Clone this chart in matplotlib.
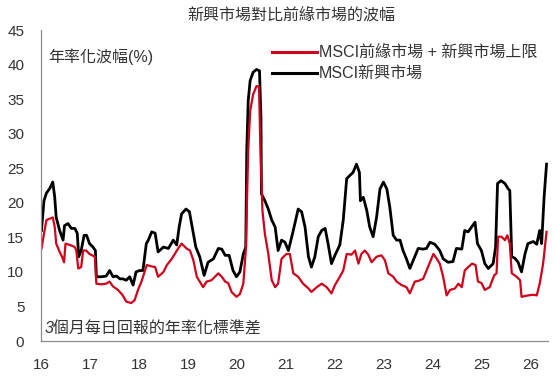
import matplotlib
matplotlib.use("Agg")
import matplotlib.pyplot as plt
from matplotlib.lines import Line2D

plt.rcParams["font.family"] = ["Liberation Sans", "Noto Sans CJK TC", "DejaVu Sans"]

TEXT_COLOR = "#333333"
RED = "#d0021b"

TITLE = "新興市場對比前緣市場的波幅"
YLABEL = "年率化波幅(%)"
NOTE = "3個月每日回報的年率化標準差"
LABEL_FRONTIER = "MSCI前緣市場 + 新興市場上限"
LABEL_EM = "MSCI新興市場"

x_ticks = [16, 17, 18, 19, 20, 21, 22, 23, 24, 25, 26]
x_tick_labels = ["16", "17", "18", "19", "20", "21", "22", "23", "24", "25", "26"]
y_ticks = [0, 5, 10, 15, 20, 25, 30, 35, 40, 45]

# MSCI EM (black), decimal year -> annualised vol (%)
em_years = [
    16.01, 16.06, 16.11, 16.18, 16.24, 16.28, 16.31, 16.38, 16.45, 16.48,
    16.55, 16.62, 16.69, 16.74, 16.77, 16.82, 16.88, 16.93, 16.99, 17.06,
    17.11, 17.13, 17.23, 17.33, 17.40, 17.47, 17.54, 17.61, 17.67, 17.74,
    17.81, 17.88, 17.94, 18.01, 18.08, 18.15, 18.19, 18.26, 18.33, 18.39,
    18.50, 18.60, 18.70, 18.77, 18.82, 18.87, 18.96, 19.03, 19.10, 19.16,
    19.24, 19.33, 19.41, 19.52, 19.62, 19.69, 19.76, 19.84, 19.92, 19.99,
    20.06, 20.13, 20.18, 20.20, 20.23, 20.27, 20.33, 20.40, 20.46, 20.49,
    20.50, 20.57, 20.64, 20.71, 20.78, 20.84, 20.91, 20.98, 21.05, 21.15,
    21.25, 21.32, 21.39, 21.46, 21.52, 21.59, 21.66, 21.73, 21.80, 21.86,
    21.93, 22.00, 22.10, 22.17, 22.24, 22.31, 22.37, 22.44, 22.50, 22.52,
    22.58, 22.65, 22.71, 22.78, 22.85, 22.92, 22.99, 23.06, 23.12, 23.19,
    23.26, 23.33, 23.39, 23.46, 23.53, 23.60, 23.70, 23.80, 23.87, 23.94,
    24.04, 24.14, 24.21, 24.31, 24.41, 24.48, 24.59, 24.65, 24.72, 24.79,
    24.86, 24.91, 24.99, 25.06, 25.13, 25.23, 25.28, 25.32, 25.39, 25.47,
    25.54, 25.57, 25.61, 25.67, 25.74, 25.81, 25.88, 25.94, 26.05, 26.12,
    26.18, 26.22, 26.27, 26.32,
]
em_vol = [
    16.0, 20.3, 21.4, 22.1, 23.0, 20.8, 17.9, 16.0, 14.6, 16.7,
    17.0, 16.3, 16.3, 15.6, 12.2, 13.1, 15.3, 15.3, 14.1, 13.6,
    13.1, 9.3, 9.3, 9.4, 10.2, 9.3, 9.4, 9.0, 9.0, 8.8,
    9.3, 8.1, 10.0, 10.2, 10.2, 14.1, 14.6, 15.8, 15.6, 12.9,
    13.6, 13.4, 14.6, 13.9, 16.5, 18.4, 19.1, 18.7, 16.0, 13.6,
    12.2, 9.5, 11.4, 11.9, 13.4, 13.3, 12.4, 12.4, 10.2, 9.3,
    10.0, 12.6, 13.6, 27.6, 34.8, 37.7, 38.9, 39.3, 39.1, 32.4,
    21.3, 20.3, 19.1, 17.5, 16.5, 13.1, 14.6, 14.3, 13.1, 16.0,
    19.1, 18.7, 16.5, 12.2, 10.7, 12.2, 15.1, 16.0, 16.3, 14.1,
    11.2, 12.4, 13.9, 17.5, 23.5, 24.0, 24.4, 25.6, 24.4, 20.3,
    20.8, 18.9, 16.5, 15.1, 17.9, 22.0, 23.0, 22.0, 19.4, 15.3,
    14.6, 14.6, 13.1, 11.9, 10.5, 11.7, 13.4, 13.3, 13.4, 14.3,
    14.0, 13.1, 11.9, 11.4, 11.5, 13.4, 13.3, 16.0, 15.8, 16.5,
    17.2, 14.1, 13.1, 11.2, 10.5, 11.2, 13.6, 22.8, 23.2, 22.8,
    22.0, 21.8, 12.2, 12.0, 11.4, 10.0, 12.6, 14.1, 14.4, 14.0,
    16.0, 14.1, 20.8, 25.6,
]

# MSCI Frontier + EM small (red)
fm_years = [
    16.01, 16.06, 16.11, 16.18, 16.24, 16.28, 16.31, 16.38, 16.43, 16.47,
    16.50, 16.59, 16.69, 16.72, 16.76, 16.82, 16.86, 16.92, 16.99, 17.10,
    17.13, 17.23, 17.33, 17.40, 17.47, 17.57, 17.67, 17.74, 17.84, 17.91,
    17.98, 18.05, 18.16, 18.26, 18.33, 18.39, 18.50, 18.57, 18.67, 18.73,
    18.80, 18.87, 18.97, 19.04, 19.11, 19.18, 19.24, 19.31, 19.38, 19.48,
    19.55, 19.62, 19.69, 19.76, 19.82, 19.89, 19.99, 20.06, 20.13, 20.18,
    20.23, 20.27, 20.33, 20.40, 20.45, 20.48, 20.52, 20.57, 20.64, 20.71,
    20.78, 20.84, 20.91, 21.01, 21.08, 21.15, 21.25, 21.35, 21.46, 21.52,
    21.63, 21.73, 21.83, 21.93, 22.00, 22.10, 22.17, 22.24, 22.34, 22.41,
    22.48, 22.54, 22.61, 22.68, 22.75, 22.85, 22.95, 23.02, 23.09, 23.19,
    23.26, 23.36, 23.46, 23.53, 23.63, 23.70, 23.80, 23.90, 24.01, 24.07,
    24.14, 24.21, 24.28, 24.35, 24.45, 24.52, 24.59, 24.65, 24.72, 24.80,
    24.87, 24.92, 24.99, 25.06, 25.16, 25.25, 25.30, 25.33, 25.40, 25.47,
    25.52, 25.57, 25.61, 25.71, 25.78, 25.81, 25.94, 26.05, 26.12, 26.18,
    26.25, 26.32,
]
fm_vol = [
    13.4, 15.5, 17.5, 17.7, 17.9, 16.5, 14.1, 12.9, 12.2, 11.4,
    14.1, 13.9, 13.6, 13.1, 10.5, 10.7, 13.1, 13.1, 12.6, 12.2,
    8.3, 8.2, 8.3, 8.6, 7.9, 7.4, 6.6, 5.7, 5.5, 5.9,
    7.4, 8.6, 11.0, 10.8, 10.7, 9.3, 10.0, 11.0, 11.9, 12.6,
    13.4, 14.1, 13.4, 13.1, 11.7, 9.3, 8.6, 7.8, 8.6, 8.8,
    9.3, 9.8, 9.3, 8.6, 8.4, 7.1, 6.4, 6.8, 8.3, 13.1,
    27.6, 33.3, 35.7, 36.9, 36.8, 27.6, 18.9, 15.5, 12.6, 8.8,
    7.8, 8.3, 11.9, 12.6, 12.6, 9.8, 9.3, 8.3, 7.6, 7.1,
    7.8, 8.3, 7.8, 6.9, 8.1, 9.3, 10.2, 12.6, 12.5, 13.1,
    11.2, 12.6, 13.1, 12.5, 11.4, 12.2, 12.4, 11.7, 9.8, 9.3,
    8.6, 8.1, 7.8, 6.9, 8.6, 8.7, 9.0, 10.7, 12.6, 12.0,
    11.2, 9.3, 6.6, 7.4, 7.6, 8.3, 7.8, 10.2, 10.7, 11.2,
    11.0, 8.6, 8.4, 7.4, 7.8, 9.5, 9.8, 15.1, 15.1, 14.6,
    15.3, 14.1, 9.8, 9.3, 8.8, 6.4, 6.6, 6.7, 6.6, 8.3,
    11.2, 15.8,
]


def style_axes(ax):
    for side in ["top", "right"]:
        ax.spines[side].set_visible(False)
    for side in ["left", "bottom"]:
        ax.spines[side].set_color("#8c8c8c")
        ax.spines[side].set_linewidth(0.9)

    ax.set_xlim(16, 26.35)
    ax.set_ylim(0, 45)
    ax.set_xticks(x_ticks)
    ax.set_xticklabels(x_tick_labels)
    ax.set_yticks(y_ticks)
    ax.tick_params(axis="both", length=0, labelsize=11, labelcolor=TEXT_COLOR)
    ax.tick_params(axis="y", pad=12)
    ax.tick_params(axis="x", pad=12)


def add_legend(fig):
    # hand-placed legend: two short lines with text to the right
    entries = [(RED, LABEL_FRONTIER, 0.861), (("black"), LABEL_EM, 0.805)]
    for color, label, y in entries:
        fig.add_artist(Line2D([0.490, 0.571], [y, y], color=color, linewidth=2.2,
                              transform=fig.transFigure))
        fig.text(0.574, y, label, fontsize=11.5, color=TEXT_COLOR,
                 va="center", ha="left")


def main():
    fig = plt.figure(figsize=(5.55, 3.76), dpi=100)
    ax = fig.add_axes([0.0739, 0.093, 0.9135, 0.827])

    ax.plot(em_years, em_vol, color="black", linewidth=2.0)
    ax.plot(fm_years, fm_vol, color=RED, linewidth=1.6)

    style_axes(ax)

    fig.text(0.525, 0.96, TITLE, fontsize=11.5, color=TEXT_COLOR,
             ha="center", va="center")
    ax.text(0.015, 0.915, YLABEL, transform=ax.transAxes, fontsize=11.5,
            color=TEXT_COLOR, ha="left", va="center")
    ax.text(0.008, 0.04, NOTE, transform=ax.transAxes, fontsize=11.5,
            color=TEXT_COLOR, ha="left", va="center", style="italic")

    add_legend(fig)

    fig.savefig("out.png", dpi=100)


if __name__ == "__main__":
    main()
